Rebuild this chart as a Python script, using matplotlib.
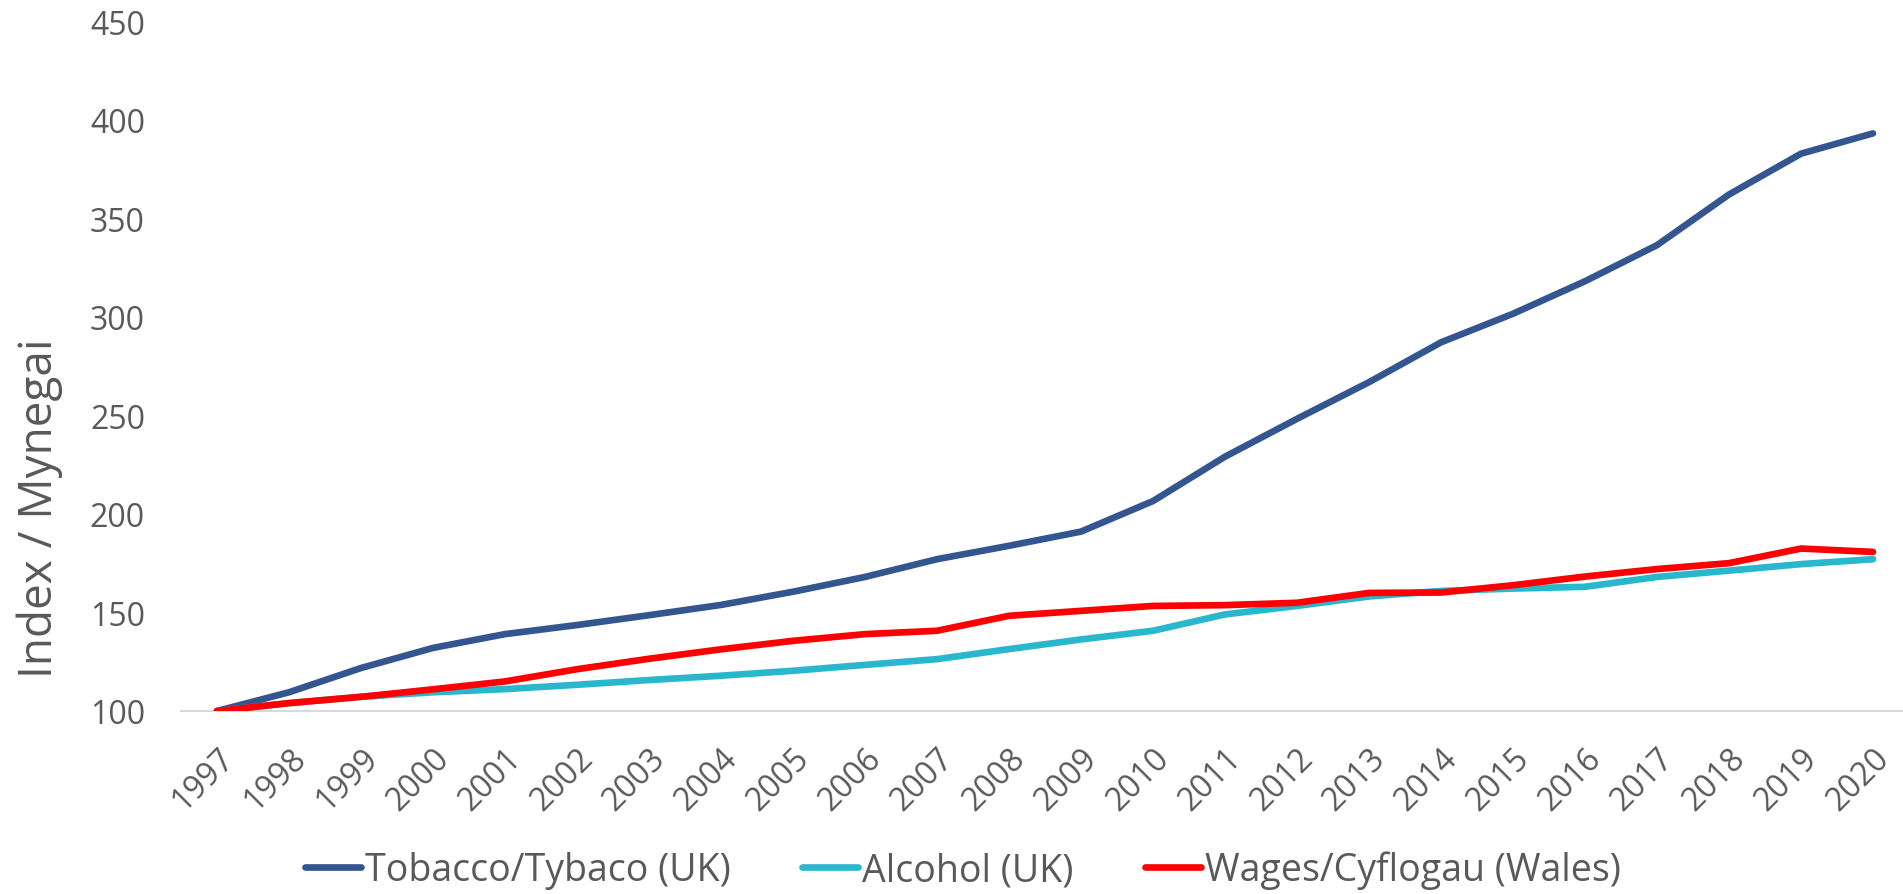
import matplotlib
matplotlib.use('Agg')
import matplotlib.pyplot as plt

plt.rcParams['font.family'] = ['Open Sans', 'DejaVu Sans']

years = [str(y) for y in range(1997, 2021)]

tobacco = [100, 109.5, 121.8, 132, 139, 143.6, 148.6, 153.8, 160.5, 168, 177, 183.8,
           191, 206.5, 229, 248.2, 266.8, 287, 301.5, 318, 336.3, 362, 382.7, 393]
alcohol = [100, 104, 107.2, 109.5, 111.1, 113.3, 115.7, 117.9, 120.4, 123.4, 126.3, 131.4,
           136.3, 140.7, 149, 153.3, 158.1, 160.9, 162.1, 163, 168, 171.2, 174.5, 177]
wages = [100, 104, 107.2, 111, 115, 121.2, 126.5, 131.3, 135.6, 139, 140.7, 148.3,
         150.8, 153.3, 153.7, 154.9, 159.9, 160.1, 163.8, 168.2, 172, 175, 182.4, 180.7]

series_labels = ['Tobacco/Tybaco (UK)', 'Alcohol (UK)', 'Wages/Cyflogau (Wales)']
colors = ['#335590', '#29B7CE', '#FF0000']
ticks_y = [100, 150, 200, 250, 300, 350, 400, 450]

GREY = '#595959'

fig = plt.figure(figsize=(19.03, 8.95), dpi=100)
ax = fig.add_axes([181 / 1903, 1 - 712 / 895, 1 - 181 / 1903, (712 - 22) / 895])

x = list(range(len(years)))
for vals, lab, c in zip([tobacco, alcohol, wages], series_labels, colors):
    ax.plot(x, vals, color=c, lw=4.8, label=lab, solid_capstyle='round', solid_joinstyle='round')

ax.set_xlim(-0.5, (1903 - 217) / 72)
ax.set_ylim(100, 450)
ax.set_yticks(ticks_y)
ax.set_xticks(x)
ax.set_xticklabels(years, rotation=45, ha='right', va='top', rotation_mode='anchor')

for s in ['top', 'right', 'left']:
    ax.spines[s].set_visible(False)
ax.spines['bottom'].set_color('#D9D9D9')
ax.spines['bottom'].set_linewidth(1.5)
ax.spines['bottom'].set_zorder(0)

ax.tick_params(axis='both', length=0, labelsize=23, labelcolor=GREY)
ax.tick_params(axis='y', pad=26)
ax.tick_params(axis='x', pad=22)

fig.text(40 / 1903, 1 - 508 / 895, 'Index / Mynegai', rotation=90, ha='center', va='center',
         fontsize=33, color=GREY)

leg = fig.legend(loc='center', bbox_to_anchor=(0.506, 1 - 871 / 895), ncol=3, frameon=False,
                 fontsize=27, handlelength=1.5, handletextpad=0.1, columnspacing=1.9,
                 borderpad=0, borderaxespad=0)
for t in leg.get_texts():
    t.set_color(GREY)

fig.savefig('out.png', dpi=100)
